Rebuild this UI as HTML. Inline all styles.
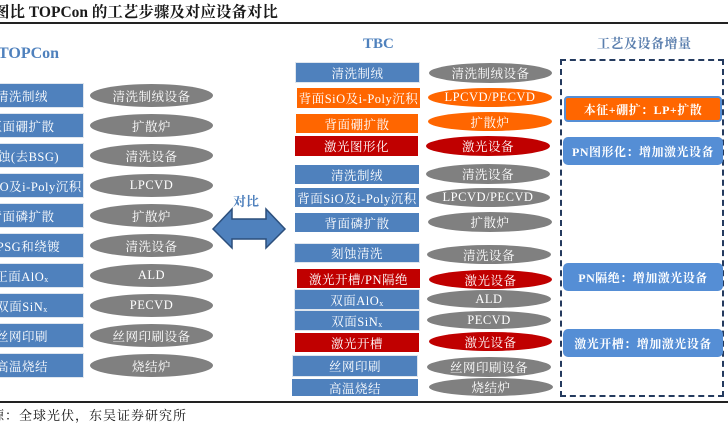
<!DOCTYPE html>
<html><head><meta charset="utf-8"><style>
*{margin:0;padding:0;box-sizing:border-box}
body{width:728px;height:425px;overflow:hidden;background:#fff;position:relative;font-family:"Liberation Serif","Noto Serif CJK SC",serif}
.a{position:absolute}
.t{white-space:nowrap;display:flex;align-items:center;justify-content:center;color:#fff;font-size:12.5px;letter-spacing:0.5px}
.b{background:#4f81bd}
.bb{background:#4f81bd;border:1.5px solid #dfe6ee}
.o{background:#ff6600}
.r{background:#c00000}
.e{border-radius:50%;background:#808080}
.eo{border-radius:50%;background:#ff6600}
.er{border-radius:50%;background:#c00000}
.g{background:#558ed5;border-radius:5px;font-weight:bold;font-size:12px}
.s{font-size:8px;position:relative;top:4px}
</style></head><body>
<div class="a" style="left:-6px;top:0;font-size:15.5px;font-weight:bold;color:#1a1a1a;white-space:nowrap">图比 TOPCon 的工艺步骤及对应设备对比</div>
<div class="a" style="left:0;top:22px;width:728px;height:2px;background:#222"></div>
<div class="a" style="left:-2px;top:45px;font-size:16px;font-weight:bold;color:#4f81bd">TOPCon</div>

<div class="a t bb" style="left:-40px;top:83px;width:124px;height:25px">清洗制绒</div>
<div class="a t bb" style="left:-40px;top:113px;width:124px;height:25px">正面硼扩散</div>
<div class="a t bb" style="left:-40px;top:143px;width:124px;height:25px">刻蚀(去BSG)</div>
<div class="a t bb" style="left:-40px;top:173px;width:124px;height:25px">背面SiO及i-Poly沉积</div>
<div class="a t bb" style="left:-40px;top:203px;width:124px;height:25px">背面磷扩散</div>
<div class="a t bb" style="left:-40px;top:233px;width:124px;height:25px">去PSG和绕镀</div>
<div class="a t bb" style="left:-40px;top:263px;width:124px;height:25px">正面AlO<span class="s">x</span></div>
<div class="a t bb" style="left:-40px;top:293px;width:124px;height:25px">双面SiN<span class="s">x</span></div>
<div class="a t bb" style="left:-40px;top:323px;width:124px;height:25px">丝网印刷</div>
<div class="a t bb" style="left:-40px;top:353px;width:124px;height:25px">高温烧结</div>

<div class="a t e" style="left:90px;top:84px;width:123px;height:23px">清洗制绒设备</div>
<div class="a t e" style="left:90px;top:114px;width:123px;height:23px">扩散炉</div>
<div class="a t e" style="left:90px;top:144px;width:123px;height:23px">清洗设备</div>
<div class="a t e" style="left:90px;top:174px;width:123px;height:23px">LPCVD</div>
<div class="a t e" style="left:90px;top:204px;width:123px;height:23px">扩散炉</div>
<div class="a t e" style="left:90px;top:234px;width:123px;height:23px">清洗设备</div>
<div class="a t e" style="left:90px;top:264px;width:123px;height:23px">ALD</div>
<div class="a t e" style="left:90px;top:294px;width:123px;height:23px">PECVD</div>
<div class="a t e" style="left:90px;top:324px;width:123px;height:23px">丝网印刷设备</div>
<div class="a t e" style="left:90px;top:354px;width:123px;height:23px">烧结炉</div>

<div class="a" style="left:233px;top:191px;font-size:13px;font-weight:bold;color:#4f81bd">对比</div>
<svg class="a" style="left:0;top:0" width="728" height="425"><polygon points="213,229 232,209 232,219 266,219 266,209 285,229 266,248 266,239 232,239 232,248" fill="#4f81bd" stroke="#2c4f7c" stroke-width="1.5"/></svg>

<div class="a" style="left:363px;top:36px;font-size:15px;font-weight:bold;color:#4f81bd">TBC</div>
<div class="a t bb" style="left:295px;top:62px;width:125px;height:21px">清洗制绒</div>
<div class="a t o" style="left:297px;top:88px;width:123px;height:20px">背面SiO及i-Poly沉积</div>
<div class="a t o" style="left:296px;top:114px;width:122px;height:19px">背面硼扩散</div>
<div class="a t r" style="left:295px;top:136px;width:123px;height:20px">激光图形化</div>
<div class="a t b" style="left:295px;top:165px;width:124px;height:19px">清洗制绒</div>
<div class="a t b" style="left:295px;top:188px;width:124px;height:19px">背面SiO及i-Poly沉积</div>
<div class="a t b" style="left:295px;top:213px;width:124px;height:19px">背面磷扩散</div>
<div class="a t bb" style="left:294px;top:243px;width:126px;height:20px">刻蚀清洗</div>
<div class="a t r" style="left:297px;top:269px;width:123px;height:19px">激光开槽/PN隔绝</div>
<div class="a t bb" style="left:294px;top:289px;width:126px;height:21px">双面AlO<span class="s">x</span></div>
<div class="a t bb" style="left:294px;top:310px;width:126px;height:21px">双面SiN<span class="s">x</span></div>
<div class="a t r" style="left:295px;top:333px;width:124px;height:19px">激光开槽</div>
<div class="a t bb" style="left:292px;top:355px;width:126px;height:22px">丝网印刷</div>
<div class="a t b" style="left:292px;top:379px;width:126px;height:17px">高温烧结</div>

<div class="a t e" style="left:429px;top:63px;width:123px;height:20px">清洗制绒设备</div>
<div class="a t eo" style="left:428px;top:88px;width:124px;height:19px">LPCVD/PECVD</div>
<div class="a t eo" style="left:428px;top:112px;width:124px;height:19px">扩散炉</div>
<div class="a t er" style="left:426px;top:136px;width:124px;height:20px">激光设备</div>
<div class="a t e" style="left:426px;top:164px;width:124px;height:20px">清洗设备</div>
<div class="a t e" style="left:426px;top:188px;width:124px;height:19px">LPCVD/PECVD</div>
<div class="a t e" style="left:428px;top:212px;width:124px;height:20px">扩散炉</div>
<div class="a t e" style="left:427px;top:245px;width:124px;height:19px">清洗设备</div>
<div class="a t er" style="left:429px;top:270px;width:123px;height:19px">激光设备</div>
<div class="a t e" style="left:427px;top:290px;width:124px;height:18px">ALD</div>
<div class="a t e" style="left:427px;top:311px;width:124px;height:18px">PECVD</div>
<div class="a t er" style="left:429px;top:332px;width:123px;height:19px">激光设备</div>
<div class="a t e" style="left:427px;top:357px;width:124px;height:20px">丝网印刷设备</div>
<div class="a t e" style="left:429px;top:378px;width:124px;height:18px">烧结炉</div>

<div class="a" style="left:597px;top:33px;font-size:13px;font-weight:bold;color:#5b7fae;white-space:nowrap;letter-spacing:0.5px">工艺及设备增量</div>
<div class="a" style="left:560px;top:59px;width:164px;height:338px;border:2px dashed #243a5e"></div>
<div class="a t" style="left:564px;top:96px;width:158px;height:26px;background:#ff6600;border:2px solid #558ed5;border-radius:4px;font-weight:bold;font-size:12px">本征+硼扩：LP+扩散</div>
<div class="a t g" style="left:563px;top:137px;width:160px;height:28px">PN图形化：增加激光设备</div>
<div class="a t g" style="left:563px;top:263px;width:160px;height:28px">PN隔绝：增加激光设备</div>
<div class="a t g" style="left:563px;top:329px;width:160px;height:28px">激光开槽：增加激光设备</div>

<div class="a" style="left:0;top:401px;width:728px;height:2px;background:#222"></div>
<div class="a" style="left:-9px;top:405px;font-size:13px;color:#111;white-space:nowrap;letter-spacing:1px">源：全球光伏，东吴证券研究所</div>
</body></html>
